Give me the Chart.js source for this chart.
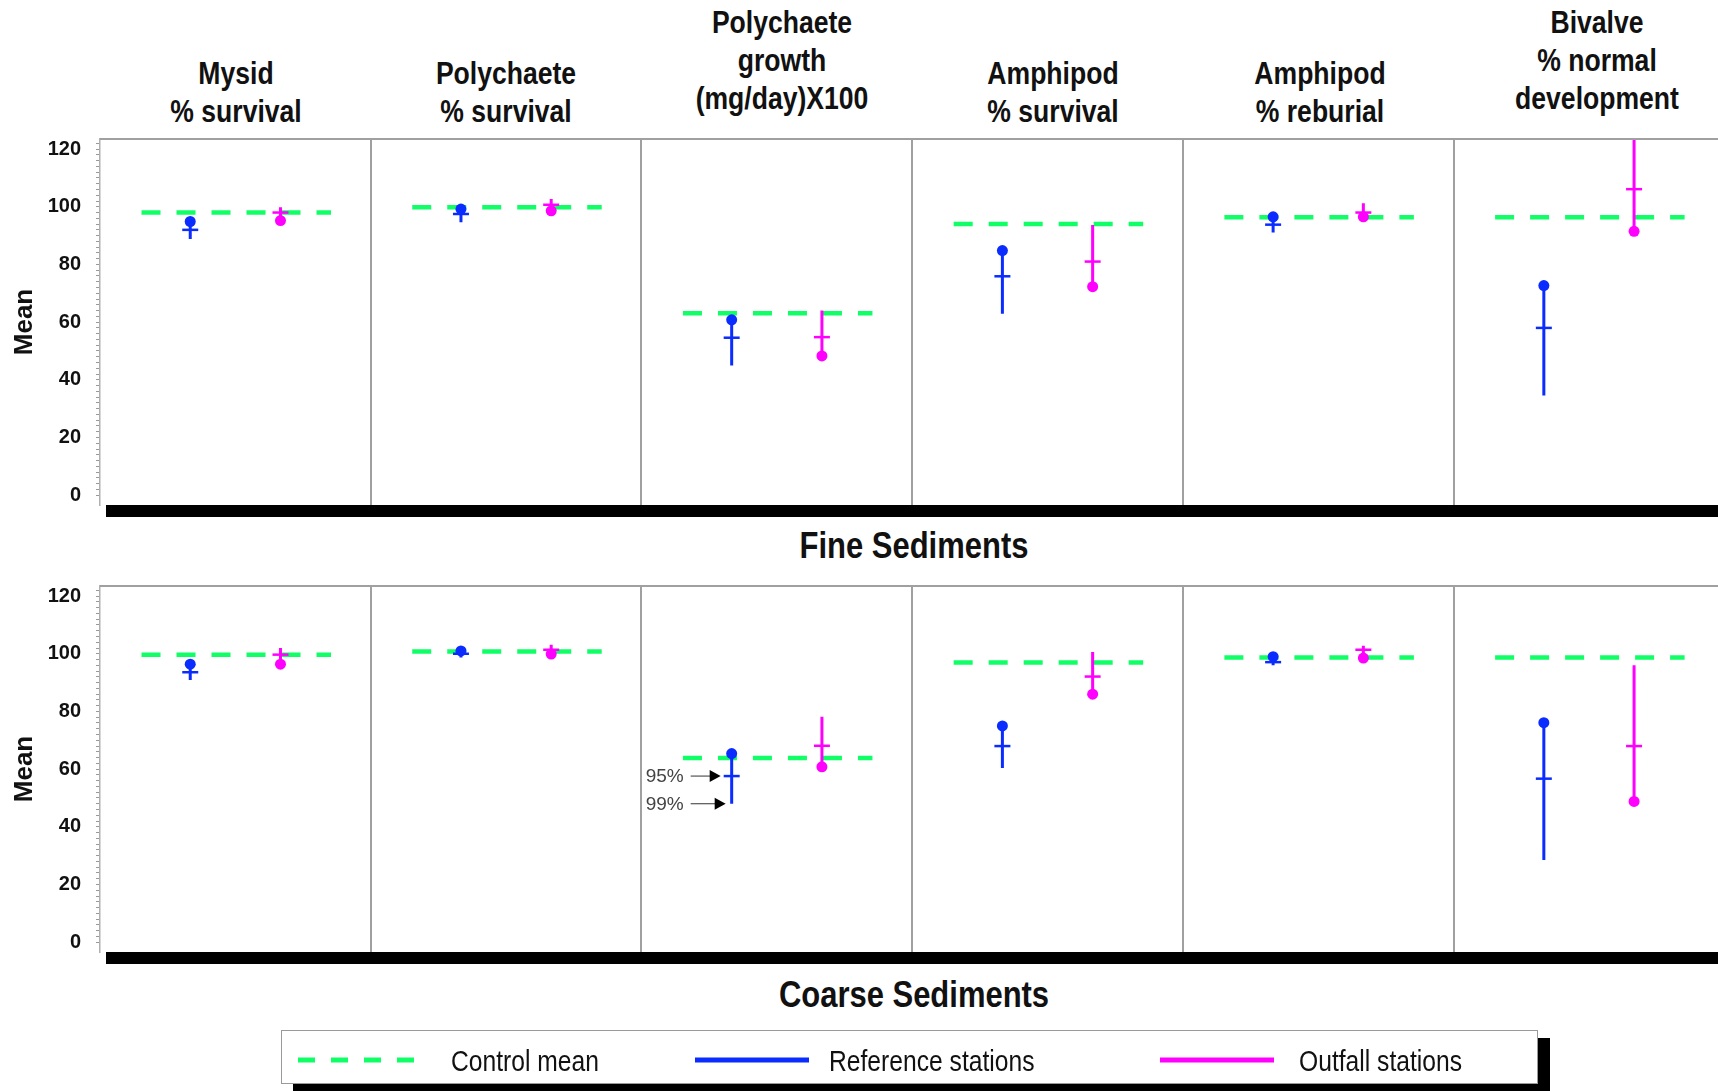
<!DOCTYPE html>
<html><head><meta charset="utf-8">
<script src="https://cdn.jsdelivr.net/npm/chart.js@4.4.1/dist/chart.umd.min.js"></script>
<style>
html,body{margin:0;padding:0;background:#fff;width:1718px;height:1091px;overflow:hidden;position:relative;
  font-family:"Liberation Sans",Arial,sans-serif;color:#111;}
canvas{position:absolute;left:0;}
.hdr{position:absolute;width:300px;text-align:center;font-weight:bold;font-size:32px;line-height:38px;white-space:pre;transform:scaleX(0.83);transform-origin:50% 50%;}
.sec{position:absolute;width:600px;text-align:center;font-weight:bold;font-size:36px;line-height:40px;transform:scaleX(0.86);transform-origin:50% 50%;}
.leg{position:absolute;left:281px;top:1030px;width:1255px;height:52px;border:1px solid #9a9a9a;background:#fff;box-shadow:12px 8px 0 #000;}
.lt{position:absolute;font-size:29px;line-height:34px;top:1044px;transform:scaleX(0.85);transform-origin:0 50%;white-space:nowrap;}
.ann{position:absolute;font-family:"Liberation Sans",Arial,sans-serif;font-size:19px;line-height:20px;color:#444;}
</style></head>
<body>
<div id="headers"></div>
<canvas id="fine" width="1718" height="390" style="top:130px"></canvas>
<canvas id="coarse" width="1718" height="390" style="top:577px"></canvas>
<div class="sec" style="left:614px;top:526px">Fine Sediments</div>
<div class="sec" style="left:614px;top:975px">Coarse Sediments</div>
<div class="leg"></div>
<svg style="position:absolute;left:0;top:0" width="1718" height="1091">
  <line x1="298" y1="1060" x2="416" y2="1060" stroke="#11ff66" stroke-width="5" stroke-dasharray="17 16"/>
  <line x1="695" y1="1060" x2="809" y2="1060" stroke="#0a2cff" stroke-width="5"/>
  <line x1="1160" y1="1060" x2="1274" y2="1060" stroke="#ff00ff" stroke-width="5"/>
</svg>
<div class="lt" style="left:451px">Control mean</div>
<div class="lt" style="left:829px">Reference stations</div>
<div class="lt" style="left:1299px">Outfall stations</div>
<div class="ann" id="a95">95%</div>
<div class="ann" id="a99">99%</div>
<script>
// ---------- data ----------
const PANEL_TITLES = ["Mysid\n% survival", "Polychaete\n% survival", "Polychaete\ngrowth\n(mg/day)X100",
                      "Amphipod\n% survival", "Amphipod\n% reburial", "Bivalve\n% normal\ndevelopment"];
const Y_TICKS = [0, 20, 40, 60, 80, 100, 120];

// Fine sediments
const CONTROL_FINE   = [98.0, 99.8, 63.1, 94.0, 96.4, 96.4];
const REF_FINE_MEAN  = [94.9, 99.2, 60.8, 84.8, 96.5, 72.7];
const REF_FINE_95    = [92.0, 97.5, 54.6, 75.9, 93.8, 58.0];
const REF_FINE_99    = [88.8, 94.6, 45.0, 62.9, 91.1, 34.6];
const OUT_FINE_MEAN  = [95.2, 98.6, 48.3, 72.3, 96.5, 91.5];
const OUT_FINE_95    = [98.0, 100.7, 54.8, 81.0, 98.0, 106.1];
const OUT_FINE_99    = [99.8, 102.7, 64.0, 93.7, 101.2, 127.0];

// Coarse sediments
const CONTROL_COARSE  = [99.7, 100.8, 63.9, 97.0, 98.7, 98.7];
const REF_COARSE_MEAN = [96.4, 101.0, 65.4, 75.0, 99.0, 76.1];
const REF_COARSE_95   = [93.6, 100.0, 57.6, 68.0, 97.1, 56.7];
const REF_COARSE_99   = [90.9, 98.7, 48.0, 60.4, 96.0, 28.5];
const OUT_COARSE_MEAN = [96.4, 99.9, 60.8, 86.0, 98.5, 48.8];
const OUT_COARSE_95   = [99.7, 101.4, 68.1, 92.1, 101.4, 68.0];
const OUT_COARSE_99   = [102.0, 103.1, 78.2, 100.6, 102.8, 96.0];

const ANNOT_PANEL = 2;  // the "95% / 99%" explanation sits on panel 3, coarse
// ---------- layout / style ----------
const FONT = '"Liberation Sans",Arial,sans-serif';
const GREEN = '#11ff66', BLUE = '#0a2cff', PINK = '#ff00ff';
const SPAN = 3, REF_X = 1, OUT_X = 2, DASH_FROM = 0.46, DASH_TO = 2.56;
const X_MAX = 17.93, Y_MIN = -3.4, Y_MAX = 123.5;

// headers
const HDR_CENTERS = [236, 506, 782, 1053, 1320, 1597];
const hdrBox = document.getElementById('headers');
PANEL_TITLES.forEach((t, k) => {
  const d = document.createElement('div');
  d.className = 'hdr';
  d.textContent = t;
  const lines = t.split('\n').length;
  d.style.left = (HDR_CENTERS[k] - 150) + 'px';
  d.style.top = (lines === 3 ? 3 : 54) + 'px';
  hdrBox.appendChild(d);
});

function buildDatasets(ctrl, rM, r95, r99, oM, o95, o99) {
  const c = [], rl = [], rd = [], rt = [], ol = [], od = [], ot = [];
  for (let k = 0; k < ctrl.length; k++) {
    const b = SPAN * k;
    c.push({x: b + DASH_FROM, y: ctrl[k]}, {x: b + DASH_TO, y: ctrl[k]}, {x: b + DASH_TO + 0.01, y: null});
    rl.push({x: b + REF_X, y: rM[k]}, {x: b + REF_X, y: r99[k]}, {x: b + REF_X + 0.01, y: null});
    ol.push({x: b + OUT_X, y: oM[k]}, {x: b + OUT_X, y: o99[k]}, {x: b + OUT_X + 0.01, y: null});
    rd.push({x: b + REF_X, y: rM[k]}); rt.push({x: b + REF_X, y: r95[k]});
    od.push({x: b + OUT_X, y: oM[k]}); ot.push({x: b + OUT_X, y: o95[k]});
  }
  const line = (data, col, order) => ({data, borderColor: col, borderWidth: 3, pointRadius: 0, spanGaps: false, order});
  const dots = (data, col) => ({data, showLine: false, pointStyle: 'circle', pointRadius: 5.5, pointBackgroundColor: col, pointBorderWidth: 0, order: 1});
  const ticks = (data, col) => ({data, showLine: false, pointStyle: 'line', pointRadius: 8, pointBorderColor: col, pointBorderWidth: 2.5, order: 1});
  return [
    {label: 'Control mean', data: c, borderColor: GREEN, borderWidth: 4.5, borderDash: [19, 16], pointRadius: 0, spanGaps: false, order: 10},
    line(rl, BLUE, 2), dots(rd, BLUE), ticks(rt, BLUE),
    line(ol, PINK, 2), dots(od, PINK), ticks(ot, PINK)
  ];
}

const framePlugin = {
  id: 'frame',
  afterDraw(chart) {
    const {ctx, chartArea: a} = chart;
    ctx.save();
    ctx.strokeStyle = '#a0a0a0'; ctx.lineWidth = 2;
    ctx.beginPath(); ctx.moveTo(a.left, a.top); ctx.lineTo(a.right, a.top); ctx.stroke();
    ctx.fillStyle = '#000';
    ctx.fillRect(a.left + 6, a.bottom, a.right - a.left, 12);
    ctx.restore();
  }
};

const annotPlugin = {
  id: 'annot',
  afterDraw(chart) {
    const {ctx} = chart, xs = chart.scales.x, ys = chart.scales.y;
    const px = xs.getPixelForValue(SPAN * ANNOT_PANEL + REF_X);
    const top = chart.canvas.offsetTop;
    [[REF_COARSE_95[ANNOT_PANEL], 11, 'a95'], [REF_COARSE_99[ANNOT_PANEL], 6, 'a99']].forEach(([v, gap, id]) => {
      const y = ys.getPixelForValue(v);
      const tip = px - gap;
      ctx.save();
      ctx.strokeStyle = '#333'; ctx.lineWidth = 1;
      ctx.beginPath(); ctx.moveTo(px - 41, y); ctx.lineTo(tip - 10, y); ctx.stroke();
      ctx.fillStyle = '#000';
      ctx.beginPath(); ctx.moveTo(tip, y); ctx.lineTo(tip - 11, y - 6); ctx.lineTo(tip - 11, y + 6); ctx.closePath(); ctx.fill();
      ctx.restore();
      const el = document.getElementById(id);
      el.style.left = (px - 86) + 'px';
      el.style.top = (top + y - 10) + 'px';
    });
  }
};

function makeChart(id, datasets, plugins) {
  return new Chart(document.getElementById(id), {
    type: 'line',
    data: {datasets},
    plugins,
    options: {
      responsive: false, animation: false, events: [],
      layout: {autoPadding: false, padding: {top: 9, bottom: 15, left: 0, right: 0}},
      plugins: {legend: {display: false}, tooltip: {enabled: false}},
      scales: {
        x: {
          type: 'linear', min: 0, max: X_MAX,
          afterBuildTicks: s => { s.ticks = [1, 2, 3, 4, 5].map(i => ({value: i * SPAN})); },
          ticks: {display: false},
          grid: {color: '#a0a0a0', lineWidth: 2, drawTicks: false},
          border: {display: false},
          afterFit: s => { s.height = 0; s.paddingLeft = 0; s.paddingRight = 0; s.paddingTop = 0; s.paddingBottom = 0; }
        },
        y: {
          min: Y_MIN, max: Y_MAX,
          afterBuildTicks: s => {
            const t = [];
            for (let v = Y_TICKS[0]; v <= Y_TICKS[Y_TICKS.length - 1] + 2; v += 2) t.push({value: v});
            s.ticks = t;
          },
          afterFit: s => { s.width = 100; s.paddingTop = 0; s.paddingBottom = 0; s.paddingLeft = 0; s.paddingRight = 0; },
          ticks: {
            autoSkip: false, padding: 15, color: '#111',
            font: {family: FONT, size: 20, weight: 'bold'},
            callback: v => (Y_TICKS.includes(v) ? String(v) : '')
          },
          grid: {drawOnChartArea: false, drawTicks: true, tickLength: 4, color: '#999', lineWidth: 1},
          border: {color: '#b0b0b0', width: 1.5},
          title: {display: true, text: 'Mean', color: '#111', font: {family: FONT, size: 26, weight: 'bold', lineHeight: 1.2}, padding: {top: 9, bottom: 0}}
        }
      }
    }
  });
}

makeChart('fine', buildDatasets(CONTROL_FINE, REF_FINE_MEAN, REF_FINE_95, REF_FINE_99, OUT_FINE_MEAN, OUT_FINE_95, OUT_FINE_99), [framePlugin]);
makeChart('coarse', buildDatasets(CONTROL_COARSE, REF_COARSE_MEAN, REF_COARSE_95, REF_COARSE_99, OUT_COARSE_MEAN, OUT_COARSE_95, OUT_COARSE_99), [framePlugin, annotPlugin]);
</script>
</body></html>
